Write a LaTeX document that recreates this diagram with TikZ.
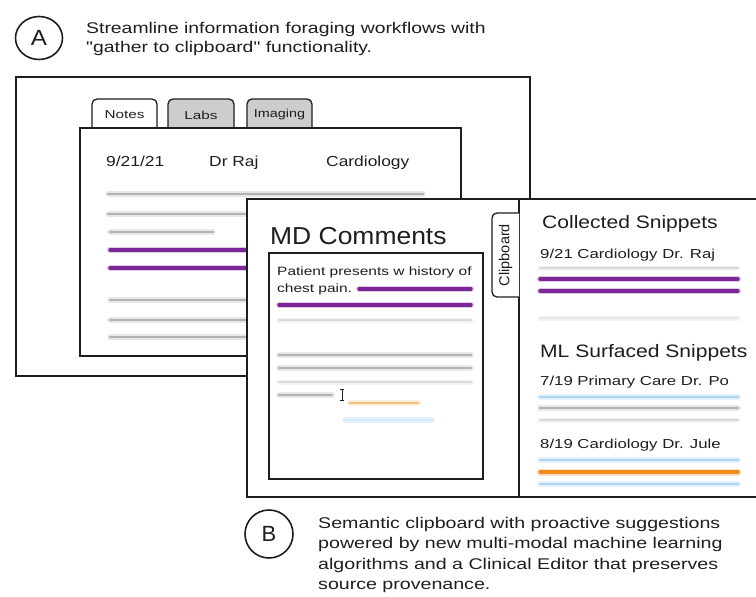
\documentclass[tikz,border=0pt]{standalone}
\usepackage{fontspec}
\setmainfont{Liberation Sans}[Ligatures=TeXOff]
\usepackage{graphicx}
\usetikzlibrary{shapes.geometric}
\definecolor{purp}{RGB}{122,38,150}
\definecolor{orng}{RGB}{240,140,30}
\definecolor{lblue}{RGB}{170,212,242}
\definecolor{ink}{RGB}{30,30,30}
\definecolor{tabgray}{RGB}{205,205,205}
\newcommand\sx[2]{\scalebox{#1}[1]{#2}}
\newcommand\fs[2]{\fontsize{#1}{#2}\selectfont}
\begin{document}
\begin{tikzpicture}[x=1pt,y=-1pt,
  frame/.style={draw=ink, line width=1.3pt},
  txt/.style={inner sep=0pt, text=ink, anchor=base west},
  gl/.style={draw=gray!60, line width=2.2pt, line cap=round, preaction={draw=gray!18, line width=5.5pt, line cap=round}},
  fl/.style={draw=gray!30, line width=2pt, line cap=round, preaction={draw=gray!10, line width=5pt, line cap=round}},
  pl/.style={draw=purp, line width=3.2pt, line cap=round, preaction={draw=purp!25, line width=6.5pt, line cap=round}},
  ol/.style={draw=orng, line width=3.5pt, line cap=round, preaction={draw=orng!25, line width=7pt, line cap=round}},
  olf/.style={draw=orng!55, line width=2.5pt, line cap=round, preaction={draw=orng!15, line width=6pt, line cap=round}},
  bll/.style={draw=lblue, line width=2.2pt, line cap=round, preaction={draw=lblue!35, line width=5.5pt, line cap=round}},
  tabw/.style={frame, fill=white, rounded corners=5pt},
  tabg/.style={frame, fill=tabgray, rounded corners=5pt},
  label/.style={ellipse, draw=ink, line width=1.6pt, inner sep=0pt, text=ink}
]
\useasboundingbox (0,0) rectangle (756,597);
\fill[white] (0,0) rectangle (756,597);

% ---- Label A ----
\node[label, minimum width=47pt, minimum height=43pt, font=\fs{22}{22}] (circA) at (39,38) {\sx{1.1}{A}};
\node[txt] (hdrA) at (86,33) {\fs{15.5}{20}\sx{1.25}{\begin{tabular}[t]{@{}l@{}}Streamline information foraging workflows with\\"gather to clipboard" functionality.\end{tabular}}};

% ---- Window A ----
\draw[frame, fill=white] (16,77) rectangle (530,376);
\draw[tabw] (92,128) -- (92,99) -- (157,99) -- (157,128);
\draw[tabg] (168,128) -- (168,99) -- (234,99) -- (234,128);
\draw[tabg] (247,128) -- (247,99) -- (312,99) -- (312,128);
\node[inner sep=0pt, text=ink, font=\fs{11.5}{12}] (tnotes) at (124.5,115) {\sx{1.33}{Notes}};
\node[inner sep=0pt, text=ink, font=\fs{11.5}{12}] (tlabs) at (201,115) {\sx{1.33}{Labs}};
\node[inner sep=0pt, text=ink, font=\fs{11.5}{12}] (timg) at (279.5,115) {\sx{1.25}{Imaging}};
\draw[frame, fill=white] (80,128) rectangle (461,356);
\node[txt, font=\fs{14.5}{16}] (date) at (106,166) {\sx{1.2}{9/21/21}};
\node[txt, font=\fs{14.5}{16}] (doc) at (209,166) {\sx{1.2}{Dr Raj}};
\node[txt, font=\fs{14.5}{16}] (dept) at (326,166) {\sx{1.2}{Cardiology}};
\draw[gl] (108,194) -- (423,194);
\draw[gl] (108,214) -- (423,214);
\draw[gl] (110,232) -- (213,232);
\draw[pl] (110,250) -- (423,250);
\draw[pl] (110,268) -- (423,268);
\draw[gl] (110,300) -- (423,300);
\draw[gl] (110,320) -- (423,320);
\draw[gl] (110,337) -- (423,337);

% ---- Panel B ----
\draw[frame, fill=white] (770,199) -- (247,199) -- (247,497) -- (770,497);
\draw[frame] (519,199) -- (519,497);
\draw[tabw] (519,213) -- (492,213) -- (492,297) -- (519,297);
\node[inner sep=0pt, text=ink, rotate=90, font=\fs{14.5}{15}] (clip) at (505.5,255) {Clipboard};

\node[txt, font=\fs{24.5}{26}] (mdc) at (270,244) {\sx{1.08}{MD Comments}};
\draw[frame] (269,253) rectangle (483,479);
\node[txt, font=\fs{12}{17}] (pt1) at (277,275) {\sx{1.29}{Patient presents w history of}};
\node[txt, font=\fs{12}{17}] (pt2) at (277,292) {\sx{1.29}{chest pain.}};
\draw[pl] (359,289) -- (471,289);
\draw[pl] (279,305) -- (471,305);
\draw[fl] (279,320) -- (471,320);
\draw[gl] (279,355) -- (471,355);
\draw[gl] (279,368) -- (471,368);
\draw[fl] (279,382) -- (471,382);
\draw[gl] (279,395) -- (332,395);
\draw[ink, line width=0.9pt] (342,389) -- (342,400) (340,389) -- (344,389) (340,400) -- (344,400);
\draw[olf] (350,403) -- (418,403);
\draw[bll, draw=lblue!50] (345,420) -- (432,420);

\node[txt, font=\fs{18}{20}] (coll) at (542,228) {\sx{1.17}{Collected Snippets}};
\node[txt, font=\fs{13}{15}] (s1) at (540,258) {\sx{1.29}{9/21 Cardiology Dr. Raj}};
\draw[fl] (540,268) -- (738,268);
\draw[pl] (540,279) -- (738,279);
\draw[pl] (540,291) -- (738,291);
\draw[fl, draw=gray!18] (540,318) -- (738,318);
\node[txt, font=\fs{18}{20}] (mls) at (540,357) {\sx{1.17}{ML Surfaced Snippets}};
\node[txt, font=\fs{13}{15}] (s2) at (540,385) {\sx{1.29}{7/19 Primary Care Dr. Po}};
\draw[bll] (540,397) -- (738,397);
\draw[gl] (540,408) -- (738,408);
\draw[fl] (540,420) -- (738,420);
\node[txt, font=\fs{13}{15}] (s3) at (540,448) {\sx{1.29}{8/19 Cardiology Dr. Jule}};
\draw[bll] (540,460) -- (738,460);
\draw[ol] (540,472) -- (738,472);
\draw[bll] (540,484) -- (738,484);

% ---- Label B ----
\node[label, minimum width=48pt, minimum height=48pt, font=\fs{22}{22}] (circB) at (269,534) {B};
\node[txt] (hdrB) at (318,528) {\fs{15.5}{20.5}\sx{1.265}{\begin{tabular}[t]{@{}l@{}}Semantic clipboard with proactive suggestions\\powered by new multi-modal machine learning\\algorithms and a Clinical Editor that preserves\\source provenance.\end{tabular}}};
\end{tikzpicture}
\end{document}
